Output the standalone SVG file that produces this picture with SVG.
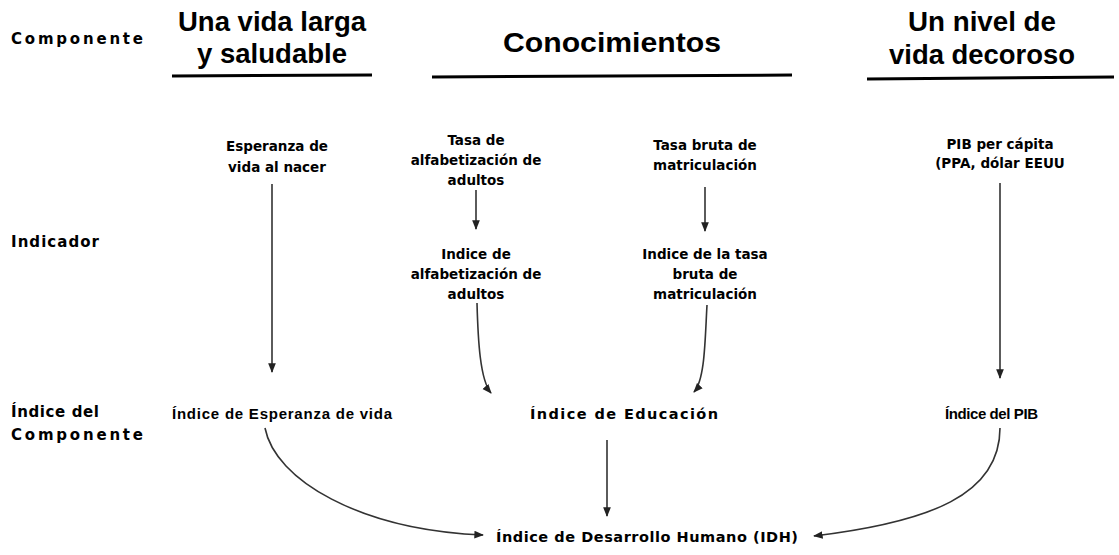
<svg xmlns="http://www.w3.org/2000/svg" width="1119" height="555" viewBox="0 0 1119 555">
<defs>
<marker id="ah" viewBox="0 0 10 10" refX="9" refY="5" markerWidth="6" markerHeight="6" orient="auto-start-reverse">
<path d="M0,1 L10,5 L0,9 z" fill="#222"/>
</marker>
<style>
text{font-family:"Liberation Sans",Arial,sans-serif;fill:#000;}
.head{font-size:27px;font-weight:bold;text-anchor:middle;}
.lab{font-family:"DejaVu Sans",sans-serif;font-size:15px;font-weight:bold;}
.t{font-family:"DejaVu Sans",sans-serif;font-size:13.5px;font-weight:bold;text-anchor:middle;}
.idx{font-size:15px;font-weight:bold;}
.idx2{font-family:"DejaVu Sans",sans-serif;font-size:14.5px;font-weight:bold;}
.ul{stroke:#000;stroke-width:3;fill:none;}
.conn path{stroke:#333;stroke-width:1.6;fill:none;marker-end:url(#ah);}
</style>
</defs>
<rect width="1119" height="555" fill="#fff"/>

<g id="labels">
<text class="lab" x="11" y="44" textLength="132" lengthAdjust="spacing">Componente</text>
<text class="lab" x="11" y="247" textLength="88" lengthAdjust="spacing">Indicador</text>
<text class="lab" x="11" y="417" textLength="88" lengthAdjust="spacing">Índice del</text>
<text class="lab" x="11" y="440" textLength="132" lengthAdjust="spacing">Componente</text>
</g>

<g id="comp-vida">
<text class="head" x="272" y="31" textLength="188" lengthAdjust="spacingAndGlyphs">Una vida larga</text>
<text class="head" x="272" y="63" textLength="150" lengthAdjust="spacingAndGlyphs">y saludable</text>
<line class="ul" x1="172" y1="76" x2="372" y2="75"/>
</g>
<g id="comp-conoc">
<text class="head" x="612" y="52" textLength="218" lengthAdjust="spacingAndGlyphs">Conocimientos</text>
<line class="ul" x1="432" y1="77" x2="792" y2="75"/>
</g>
<g id="comp-nivel">
<text class="head" x="982" y="31" textLength="148" lengthAdjust="spacingAndGlyphs">Un nivel de</text>
<text class="head" x="982" y="64" textLength="186" lengthAdjust="spacingAndGlyphs">vida decoroso</text>
<line class="ul" x1="867" y1="79" x2="1114" y2="77"/>
</g>

<g id="ind-esperanza">
<text class="t" x="277" y="151">Esperanza de</text>
<text class="t" x="277" y="172">vida al nacer</text>
</g>
<g id="ind-tasa-alf">
<text class="t" x="476" y="145">Tasa de</text>
<text class="t" x="476" y="165">alfabetización de</text>
<text class="t" x="476" y="185">adultos</text>
</g>
<g id="idx-alf">
<text class="t" x="476" y="259">Indice de</text>
<text class="t" x="476" y="279">alfabetización de</text>
<text class="t" x="476" y="299">adultos</text>
</g>
<g id="ind-tasa-mat">
<text class="t" x="705" y="150">Tasa bruta de</text>
<text class="t" x="705" y="170">matriculación</text>
</g>
<g id="idx-mat">
<text class="t" x="705" y="259">Indice de la tasa</text>
<text class="t" x="705" y="279">bruta de</text>
<text class="t" x="705" y="299">matriculación</text>
</g>
<g id="ind-pib">
<text class="t" x="1000" y="149">PIB per cápita</text>
<text class="t" x="1000" y="168">(PPA, dólar EEUU</text>
</g>

<g id="idx-esperanza">
<text class="idx" x="172" y="419" textLength="220" lengthAdjust="spacing">Índice de Esperanza de vida</text>
</g>
<g id="idx-educacion">
<text class="idx2" x="530" y="419" textLength="188" lengthAdjust="spacing">Índice de Educación</text>
</g>
<g id="idx-pib">
<text class="idx" x="945" y="419" textLength="93" lengthAdjust="spacing">Índice del PIB</text>
</g>
<g id="idh">
<text class="idx2" x="496" y="542" textLength="302" lengthAdjust="spacing">Índice de Desarrollo Humano (IDH)</text>
</g>

<g id="connectors" class="conn">
<path d="M272,184 L272,372"/>
<path d="M476,190 L476,229"/>
<path d="M705,187 L705,231"/>
<path d="M1000,183 L1000,378"/>
<path d="M477,303 C478,340 480,380 491,393"/>
<path d="M707,305 C705,340 705,380 694,392"/>
<path d="M607,440 L607,516"/>
<path d="M265,428 C275,480 360,530 483,535"/>
<path d="M1000,428 C1000,495 930,522 814,536"/>
</g>
</svg>
